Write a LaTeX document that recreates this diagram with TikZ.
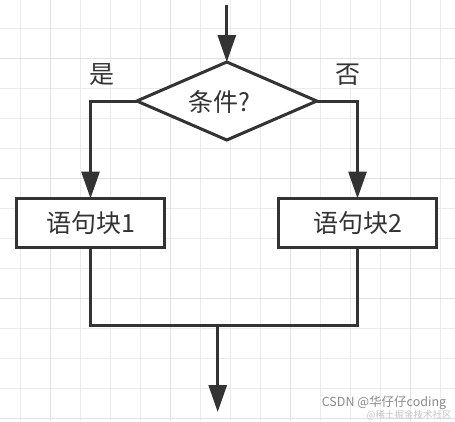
\documentclass[tikz,border=0pt]{standalone}
\usepackage{fontspec}
\newfontfamily\cjk{Noto Sans CJK SC}
\usetikzlibrary{arrows.meta,shapes.geometric}
\definecolor{ink}{HTML}{333333}
\definecolor{gridc}{HTML}{EBEBEB}
\definecolor{gridd}{HTML}{E1E1E1}
\definecolor{wm}{HTML}{8A8A8A}
\definecolor{wm2}{HTML}{C4C4C4}
\begin{document}
\begin{tikzpicture}[x=1bp,y=-1bp,
  conn/.style={draw=ink,line width=3bp},
  arr/.style={conn,-{Triangle[length=27bp,width=18bp]}},
  txt/.style={text=ink,font=\cjk\fontsize{25bp}{29bp}\selectfont,inner sep=0pt},
  boxnode/.style={txt,draw=ink,line width=3bp,fill=white,rectangle,minimum height=49bp,outer sep=0pt},
  decision/.style={draw=ink,line width=3bp,fill=white,diamond,inner sep=0pt,outer sep=0pt,minimum width=180bp,minimum height=78bp},
  gridline/.style={draw=gridc,line width=1.2bp},
  gridmajor/.style={draw=gridd,line width=1.3bp}]
\fill[white] (0,0) rectangle (455,421);
\useasboundingbox (0,0) rectangle (455,421);
\foreach \i in {0,...,14} {\draw[gridline] (20.7+30*\i,0) -- (20.7+30*\i,421);}
\foreach \i in {0,...,13} {\draw[gridline] (0,28.5+30*\i) -- (455,28.5+30*\i);}
\foreach \i in {0,...,3} {\draw[gridmajor] (50.7+120*\i,0) -- (50.7+120*\i,421);}
\foreach \i in {0,...,3} {\draw[gridmajor] (0,58.5+120*\i) -- (455,58.5+120*\i);}

\node[decision] (d) at (226.8,101) {};
\node[txt] (dt) at (219,101.5) {条件?};
\node[boxnode,minimum width=148bp] (b1) at (90.5,223) {语句块1};
\node[boxnode,minimum width=158bp] (b2) at (357.5,223) {语句块2};
\node[txt] (yes) at (101.7,75) {是};
\node[txt] (no) at (347.7,75) {否};

\coordinate (start) at (226.8,5);
\coordinate (j) at (217.7,325.7);
\coordinate (end) at (217.7,412);

\draw[arr] (start) -- (d.north);
\draw[arr] (d.west) -| (b1.north);
\draw[arr] (d.east) -| (b2.north);
\draw[conn] (b1.south) |- (b2.south |- j) -- (b2.south);
\draw[arr] (j) -- (end);

\node[text=wm,font=\cjk\fontsize{12.5bp}{14bp}\selectfont,inner sep=0pt] (wmark) at (384,403) {CSDN @华仔仔coding};
\node[text=wm2,font=\cjk\fontsize{9.5bp}{11bp}\selectfont,inner sep=0pt] (wmark2) at (409,415.5) {@稀土掘金技术社区};
\end{tikzpicture}
\end{document}
